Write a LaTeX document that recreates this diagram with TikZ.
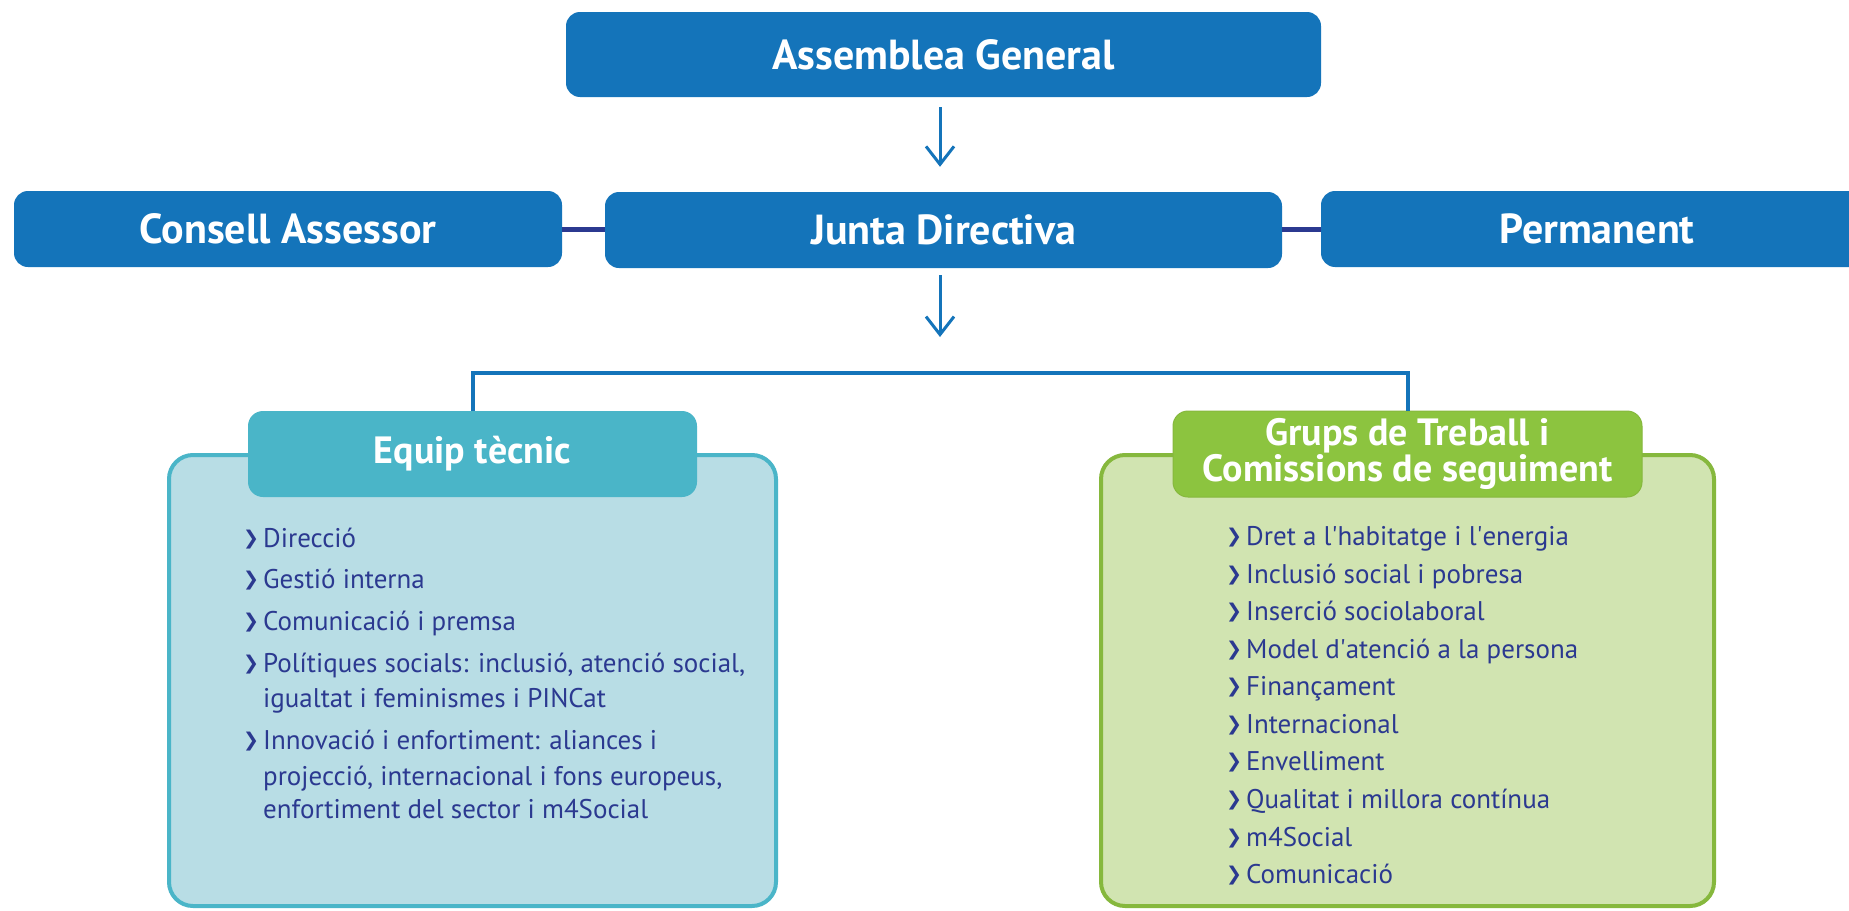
\documentclass[tikz,border=0pt]{standalone}
\usepackage{fontspec}
\setmainfont{PT Sans}
\newfontfamily\chevfont{DejaVu Sans}
\usetikzlibrary{arrows.meta}
\definecolor{boxblue}{HTML}{1474BA}
\definecolor{navy}{HTML}{2B3990}
\definecolor{tealtab}{HTML}{4AB5C8}
\definecolor{tealfill}{HTML}{B8DDE5}
\definecolor{greentab}{HTML}{8CC43F}
\definecolor{greenborder}{HTML}{86B83D}
\definecolor{greenfill}{HTML}{D1E4B1}
\newcommand{\bul}{\makebox[20pt][l]{\raisebox{3pt}{\chevfont\fontsize{19}{19}\selectfont ❯}}}
\newcommand{\apo}{\textquotesingle}
\tikzset{
  topbox/.style={fill=boxblue, draw=none, rounded corners=14pt, text=white,
    font=\fontsize{42}{46}\selectfont\bfseries, inner sep=0pt},
  arr/.style={draw=boxblue, line width=3pt, -{Straight Barb[length=18pt,width=28pt,line width=3pt]}},
  link/.style={draw=navy, line width=5pt},
  bracket/.style={draw=boxblue, line width=4pt},
  bigbox/.style={line width=4pt, rounded corners=24pt, inner sep=0pt},
  tabbox/.style={rounded corners=15pt, text=white, inner sep=0pt, align=center,
    font=\fontsize{38}{34}\selectfont\bfseries},
  item/.style={anchor=base west, inner sep=0pt, text=navy, font=\fontsize{27}{30}\selectfont}
}
\begin{document}
\begin{tikzpicture}[x=1pt,y=-1pt]
\clip (0,0) rectangle (1849,910);
\fill[white] (0,0) rectangle (1849,910);

% top row
\node[topbox, minimum width=755pt, minimum height=85pt] (A) at (943.5,54.5) {Assemblea General};
\node[topbox, minimum width=548pt, minimum height=76pt] (C) at (288,229) {Consell Assessor};
\node[topbox, minimum width=677pt, minimum height=76pt] (J) at (943.5,230) {Junta Directiva};
\node[topbox, minimum width=552pt, minimum height=76pt] (P) at (1597,229) {Permanent};

\draw[link] (C.east) -- (J.west |- C.east);
\draw[link] (J.east |- P.west) -- (P.west);

\coordinate (br) at (940,373);
\draw[arr, shorten <=10pt, shorten >=25pt] (A.south -| br) -- (J.north -| br);
\draw[arr, shorten <=7pt, shorten >=36pt] (J.south -| br) -- (br);

% big boxes
\node[bigbox, draw=tealtab, fill=tealfill, minimum width=607pt, minimum height=451pt] (EB) at (472.5,680.5) {};
\node[bigbox, draw=greenborder, fill=greenfill, minimum width=613pt, minimum height=451pt] (GB) at (1407.5,680.5) {};

% tabs
\node[tabbox, fill=tealtab, minimum width=449pt, minimum height=86pt] (ET) at (472.5,454) {Equip tècnic};
\node[tabbox, fill=greentab, draw=greenborder, line width=1pt, minimum width=469pt, minimum height=86pt] (GT) at (1407.5,454) {Grups de Treball i\\Comissions de seguiment};

\draw[bracket] (ET.north) -- (ET.north |- br) -- (GT.north |- br) -- (GT.north);

% Equip tecnic items
\node[item] (e1) at (243,547) {\bul Direcció};
\node[item] (e2) at (243,588) {\bul Gestió interna};
\node[item] (e3) at (243,630) {\bul Comunicació i premsa};
\node[item] (e4) at (243,672) {\bul Polítiques socials: inclusió, atenció social,};
\node[item] (e5) at (263,707) {igualtat i feminismes i PINCat};
\node[item] (e6) at (243,749) {\bul Innovació i enfortiment: aliances i};
\node[item] (e7) at (263,785) {projecció, internacional i fons europeus,};
\node[item] (e8) at (263,818) {enfortiment del sector i m4Social};

% Grups items
\node[item] (g1) at (1226,545) {\bul Dret a l\apo habitatge i l\apo energia};
\node[item] (g2) at (1226,583) {\bul Inclusió social i pobresa};
\node[item] (g3) at (1226,620) {\bul Inserció sociolaboral};
\node[item] (g4) at (1226,658) {\bul Model d\apo atenció a la persona};
\node[item] (g5) at (1226,695) {\bul Finançament};
\node[item] (g6) at (1226,733) {\bul Internacional};
\node[item] (g7) at (1226,770) {\bul Envelliment};
\node[item] (g8) at (1226,808) {\bul Qualitat i millora contínua};
\node[item] (g9) at (1226,846) {\bul m4Social};
\node[item] (g10) at (1226,883) {\bul Comunicació};
\end{tikzpicture}
\end{document}
